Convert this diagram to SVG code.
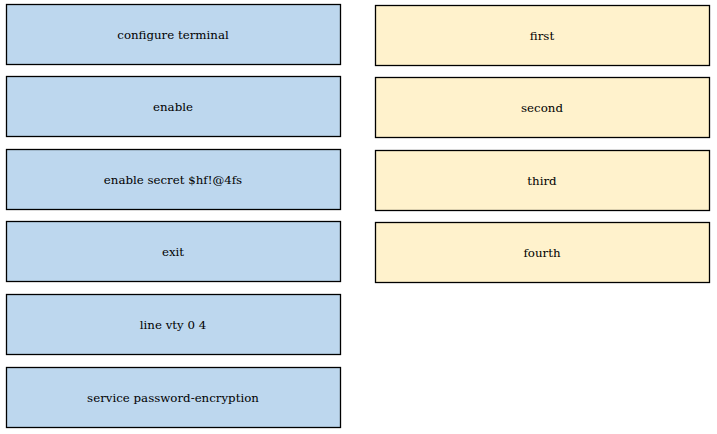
<svg xmlns="http://www.w3.org/2000/svg" width="717" height="434" viewBox="0 0 717 434">
<style>
.b{fill:#BDD7EE;stroke:#000;stroke-width:1.3}
.y{fill:#FFF2CC;stroke:#000;stroke-width:1.3}
.t{font-family:'DejaVu Serif','Liberation Serif',serif;font-size:11.8px;fill:#000;text-anchor:middle;dominant-baseline:central}
</style>
<rect width="717" height="434" fill="#fff"/>
<g id="n1"><rect class="b" x="6.5" y="4.5" width="334" height="60"/><text class="t" x="173" y="34.5">configure terminal</text></g>
<g id="n2"><rect class="b" x="6.5" y="76.5" width="334" height="60"/><text class="t" x="173" y="106.5">enable</text></g>
<g id="n3"><rect class="b" x="6.5" y="149.5" width="334" height="60"/><text class="t" x="173" y="179.5">enable secret $hf!@4fs</text></g>
<g id="n4"><rect class="b" x="6.5" y="221.5" width="334" height="60"/><text class="t" x="173" y="251.5">exit</text></g>
<g id="n5"><rect class="b" x="6.5" y="294.5" width="334" height="60"/><text class="t" x="173" y="324.5">line vty 0 4</text></g>
<g id="n6"><rect class="b" x="6.5" y="367.5" width="334" height="60"/><text class="t" x="173" y="397.5">service password-encryption</text></g>
<g id="r1"><rect class="y" x="375.5" y="5.5" width="334" height="60"/><text class="t" x="542" y="35.5">first</text></g>
<g id="r2"><rect class="y" x="375.5" y="77.5" width="334" height="60"/><text class="t" x="542" y="107.5">second</text></g>
<g id="r3"><rect class="y" x="375.5" y="150.5" width="334" height="60"/><text class="t" x="542" y="180.5">third</text></g>
<g id="r4"><rect class="y" x="375.5" y="222.5" width="334" height="60"/><text class="t" x="542" y="252.5">fourth</text></g>
<g id="connectors"></g>
</svg>
